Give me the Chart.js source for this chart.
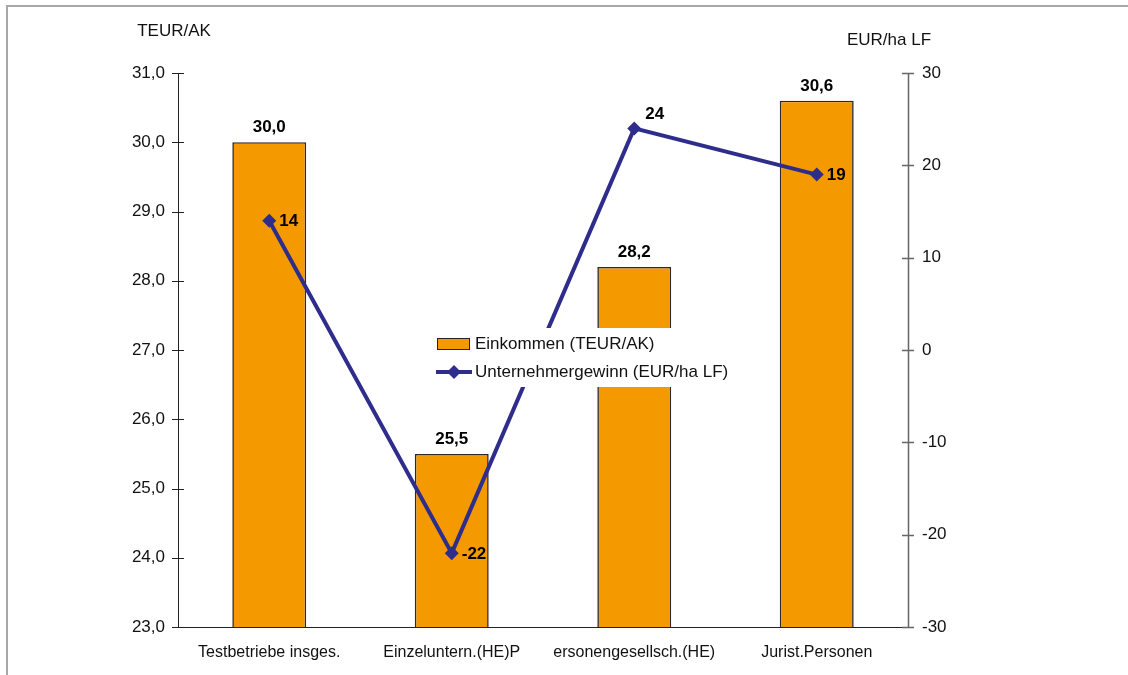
<!DOCTYPE html>
<html>
<head>
<meta charset="utf-8">
<script src="https://cdn.jsdelivr.net/npm/chart.js@4/dist/chart.umd.min.js"></script>
<style>
html,body{margin:0;padding:0;background:#fff;}
#wrap{width:1128px;height:675px;position:relative;}
</style>
</head>
<body>
<div id="wrap"><canvas id="c" width="1128" height="675"></canvas></div>
<script>
const categories = ['Testbetriebe insges.', 'Einzeluntern.(HE)P', 'ersonengesellsch.(HE)', 'Jurist.Personen'];
const einkommen = [30.0, 25.5, 28.2, 30.6];
const gewinn = [14, -22, 24, 19];
const seriesNames = ['Einkommen (TEUR/AK)', 'Unternehmergewinn (EUR/ha LF)'];
const axisTitles = ['TEUR/AK', 'EUR/ha LF'];

const FONT = "'Liberation Sans', Arial, sans-serif";
const ORANGE = '#F49A00';
const NAVY = '#2E2D8C';

const fmt = v => v.toFixed(1).replace('.', ',');

const custom = {
  id: 'custom',
  beforeDraw(chart) {
    const ctx = chart.ctx;
    ctx.save();
    ctx.fillStyle = '#fff';
    ctx.fillRect(0, 0, chart.width, chart.height);
    ctx.strokeStyle = '#a8a8a8';
    ctx.lineWidth = 2;
    ctx.beginPath();
    ctx.moveTo(7, chart.height);
    ctx.lineTo(7, 6);
    ctx.lineTo(chart.width, 6);
    ctx.stroke();
    ctx.restore();
  },
  afterDatasetsDraw(chart) {
    const ctx = chart.ctx;
    ctx.save();
    // bar value labels
    ctx.font = 'bold 17px ' + FONT;
    ctx.fillStyle = '#000';
    ctx.textAlign = 'center';
    ctx.textBaseline = 'alphabetic';
    chart.getDatasetMeta(0).data.forEach((bar, i) => {
      ctx.fillText(fmt(einkommen[i]), bar.x, bar.y - 10);
    });
    // line value labels
    ctx.textAlign = 'left';
    ctx.textBaseline = 'middle';
    const maxG = Math.max(...gewinn);
    chart.getDatasetMeta(1).data.forEach((pt, i) => {
      const dy = gewinn[i] === maxG ? -15 : 0;
      const dx = gewinn[i] === maxG ? 11 : 10;
      ctx.fillText(String(gewinn[i]), pt.x + dx, pt.y + dy + 1);
    });
    // legend box
    ctx.fillStyle = '#fff';
    ctx.fillRect(430, 328, 326, 59);
    ctx.fillStyle = ORANGE;
    ctx.strokeStyle = '#222';
    ctx.lineWidth = 1;
    ctx.fillRect(437.5, 338.5, 32, 11);
    ctx.strokeRect(437.5, 338.5, 32, 11);
    ctx.strokeStyle = NAVY;
    ctx.lineWidth = 4;
    ctx.beginPath();
    ctx.moveTo(436, 372);
    ctx.lineTo(472, 372);
    ctx.stroke();
    ctx.fillStyle = NAVY;
    ctx.beginPath();
    ctx.moveTo(454, 365); ctx.lineTo(461, 372); ctx.lineTo(454, 379); ctx.lineTo(447, 372); ctx.closePath();
    ctx.fill();
    ctx.fillStyle = '#111';
    ctx.font = '17px ' + FONT;
    ctx.textAlign = 'left';
    ctx.textBaseline = 'middle';
    ctx.fillText(seriesNames[0], 475, 344);
    ctx.fillText(seriesNames[1], 475, 372);
    ctx.restore();
  },
  afterDraw(chart) {
    const ctx = chart.ctx;
    const ca = chart.chartArea;
    ctx.save();
    const y = chart.scales.y, y1 = chart.scales.y1;
    ctx.lineWidth = 1;
    ctx.strokeStyle = '#222';
    ctx.beginPath();
    ctx.moveTo(Math.round(ca.left) + 0.5, ca.top);
    ctx.lineTo(Math.round(ca.left) + 0.5, ca.bottom);
    y.ticks.forEach(t => {
      const py = Math.round(y.getPixelForValue(t.value)) + 0.5;
      ctx.moveTo(ca.left - 6, py);
      ctx.lineTo(ca.left + 6, py);
    });
    ctx.moveTo(ca.left, Math.round(ca.bottom) + 0.5);
    ctx.lineTo(ca.right, Math.round(ca.bottom) + 0.5);
    ctx.stroke();
    ctx.strokeStyle = '#666';
    ctx.lineWidth = 1.5;
    ctx.beginPath();
    ctx.moveTo(Math.round(ca.right) + 0.5, ca.top);
    ctx.lineTo(Math.round(ca.right) + 0.5, ca.bottom);
    y1.ticks.forEach(t => {
      const py = Math.round(y1.getPixelForValue(t.value)) + 0.5;
      ctx.moveTo(ca.right - 6, py);
      ctx.lineTo(ca.right + 6, py);
    });
    ctx.stroke();
    ctx.fillStyle = '#111';
    ctx.font = '17px ' + FONT;
    ctx.textAlign = 'center';
    ctx.textBaseline = 'middle';
    ctx.fillText(axisTitles[0], 174, 31);
    ctx.fillText(axisTitles[1], 889, 40);
    ctx.restore();
  }
};

new Chart(document.getElementById('c'), {
  type: 'bar',
  data: {
    labels: categories,
    datasets: [
      {
        type: 'bar',
        label: seriesNames[0],
        data: einkommen,
        yAxisID: 'y',
        backgroundColor: ORANGE,
        borderColor: '#2a2a2a',
        borderWidth: 1.6,
        barPercentage: 0.405,
        categoryPercentage: 1,
        order: 2
      },
      {
        type: 'line',
        label: seriesNames[1],
        data: gewinn,
        yAxisID: 'y1',
        borderColor: NAVY,
        backgroundColor: NAVY,
        borderWidth: 4,
        pointStyle: 'rectRot',
        pointRadius: 7,
        pointBorderWidth: 0,
        tension: 0,
        order: 1
      }
    ]
  },
  options: {
    responsive: false,
    animation: false,
    devicePixelRatio: 1,
    layout: { padding: { top: 73, right: 0, bottom: 0, left: 0 } },
    plugins: { legend: { display: false }, tooltip: { enabled: false } },
    scales: {
      x: {
        offset: true,
        grid: { display: false, drawTicks: false },
        border: { display: false },
        ticks: { color: '#111', font: { family: FONT, size: 16 }, padding: 16, maxRotation: 0, autoSkip: false },
        afterFit: s => { s.height = 48; }
      },
      y: {
        position: 'left',
        min: 23, max: 31,
        grid: { display: false, drawTicks: false },
        border: { display: false },
        ticks: { stepSize: 1, color: '#111', font: { family: FONT, size: 17 }, padding: 13, callback: v => fmt(v) },
        afterFit: s => { s.width = 178; }
      },
      y1: {
        position: 'right',
        min: -30, max: 30,
        grid: { display: false, drawTicks: false },
        border: { display: false },
        ticks: { stepSize: 10, color: '#111', font: { family: FONT, size: 17 }, padding: 14 },
        afterFit: s => { s.width = 220; }
      }
    }
  },
  plugins: [custom]
});
</script>
</body>
</html>
